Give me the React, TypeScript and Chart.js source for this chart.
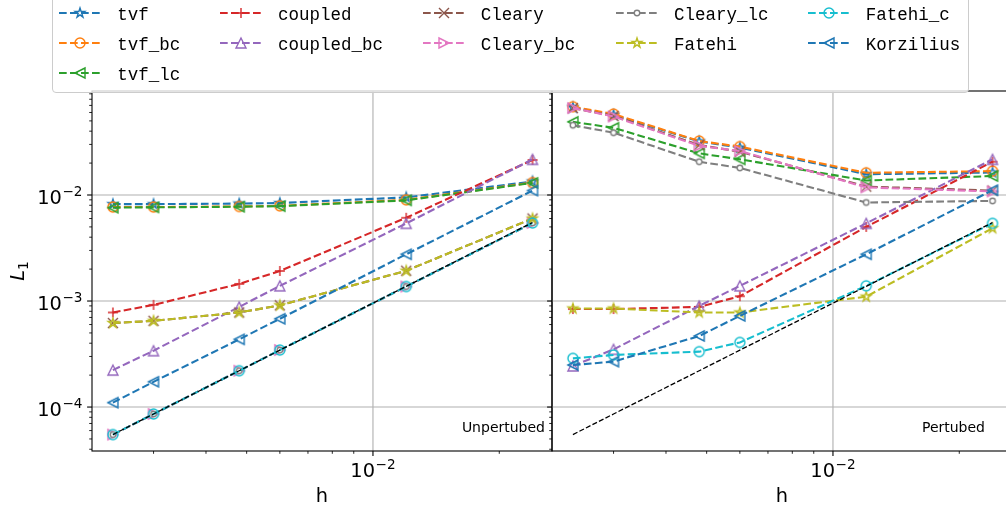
import React, { useEffect, useRef } from "react";
import { Chart, registerables } from "chart.js";
Chart.register(...registerables);

// ---------------- data ----------------
const H = [0.0024, 0.003, 0.0048, 0.006, 0.012, 0.024];

const SERIES_NAMES = [
  "tvf", "tvf_bc", "tvf_lc", "coupled", "coupled_bc", "Cleary",
  "Cleary_bc", "Cleary_lc", "Fatehi", "Fatehi_c", "Korzilius",
];

// Unpertubed panel
const U_tvf = [8.2e-3, 8.2e-3, 8.3e-3, 8.4e-3, 9.5e-3, 1.34e-2];
const U_tvf_bc = [7.7e-3, 7.7e-3, 7.8e-3, 7.9e-3, 9.0e-3, 1.31e-2];
const U_tvf_lc = [7.6e-3, 7.65e-3, 7.75e-3, 7.85e-3, 8.9e-3, 1.3e-2];
const U_coupled = [7.8e-4, 9.2e-4, 1.45e-3, 1.92e-3, 6.1e-3, 2.14e-2];
const U_coupled_bc = [2.23e-4, 3.4e-4, 8.8e-4, 1.39e-3, 5.4e-3, 2.17e-2];
const U_Cleary = [6.2e-4, 6.5e-4, 7.8e-4, 9.1e-4, 1.93e-3, 6.0e-3];
const U_Cleary_bc = [5.5e-5, 8.6e-5, 2.2e-4, 3.45e-4, 1.37e-3, 5.45e-3];
const U_Cleary_lc = [5.5e-5, 8.6e-5, 2.2e-4, 3.45e-4, 1.37e-3, 5.45e-3];
const U_Fatehi = [6.2e-4, 6.5e-4, 7.8e-4, 9.1e-4, 1.93e-3, 6.0e-3];
const U_Fatehi_c = [5.5e-5, 8.6e-5, 2.2e-4, 3.45e-4, 1.37e-3, 5.45e-3];
const U_Korzilius = [1.1e-4, 1.73e-4, 4.35e-4, 6.8e-4, 2.76e-3, 1.1e-2];
const U_ref = [5.5e-5, 8.6e-5, 2.2e-4, 3.44e-4, 1.375e-3, 5.5e-3];

// Pertubed panel
const P_tvf = [0.067, 0.057, 0.032, 0.028, 0.0157, 0.0163];
const P_tvf_bc = [0.068, 0.058, 0.0323, 0.0286, 0.0162, 0.0168];
const P_tvf_lc = [0.049, 0.043, 0.0247, 0.0217, 0.0137, 0.0151];
const P_coupled = [8.4e-4, 8.4e-4, 8.8e-4, 1.11e-3, 5.0e-3, 2.06e-2];
const P_coupled_bc = [2.44e-4, 3.5e-4, 9.0e-4, 1.39e-3, 5.4e-3, 2.17e-2];
const P_Cleary = [0.066, 0.0556, 0.0296, 0.0256, 0.012, 0.011];
const P_Cleary_bc = [0.066, 0.055, 0.029, 0.026, 0.0118, 0.0108];
const P_Cleary_lc = [0.0455, 0.0387, 0.0206, 0.018, 8.5e-3, 8.8e-3];
const P_Fatehi = [8.5e-4, 8.5e-4, 7.8e-4, 7.8e-4, 1.1e-3, 4.86e-3];
const P_Fatehi_c = [2.88e-4, 3.1e-4, 3.33e-4, 4.07e-4, 1.39e-3, 5.4e-3];
const P_Korzilius = [2.49e-4, 2.68e-4, 4.68e-4, 7.24e-4, 2.76e-3, 1.11e-2];
const P_ref = [5.5e-5, 8.6e-5, 2.2e-4, 3.44e-4, 1.375e-3, 5.5e-3];

const UNPERTURBED = [U_tvf, U_tvf_bc, U_tvf_lc, U_coupled, U_coupled_bc, U_Cleary,
  U_Cleary_bc, U_Cleary_lc, U_Fatehi, U_Fatehi_c, U_Korzilius];
const PERTURBED = [P_tvf, P_tvf_bc, P_tvf_lc, P_coupled, P_coupled_bc, P_Cleary,
  P_Cleary_bc, P_Cleary_lc, P_Fatehi, P_Fatehi_c, P_Korzilius];

// tick labels (powers of ten)
const Y_TICK_EXPONENTS = [-4, -3, -2];
const X_TICK_EXPONENTS = [-2];
const X_LABEL = "h";
const Y_LABEL_MAIN = "L";
const Y_LABEL_SUB = "1";
const PANEL_TEXTS = ["Unpertubed", "Pertubed"];

// axis limits
const X_MIN = 2.14e-3;
const X_MAX = 0.02671;
const Y_MIN = 3.85e-5;
const Y_MAX = 0.0957;

// ---------------- styles ----------------
const COLORS = ["#1f77b4", "#ff7f0e", "#2ca02c", "#d62728", "#9467bd", "#8c564b",
  "#e377c2", "#7f7f7f", "#bcbd22", "#17becf", "#1f77b4"];
const MARKERS = ["star", "circle", "triLeft", "plus", "triUp", "x", "triRight",
  "smallCircle", "star", "circle", "triLeft"];

const LINE_W = 2.1;
const DASH = [7.7, 3.3];
const FONT = "'DejaVu Sans', sans-serif";

const markerCache: Record<number, HTMLCanvasElement> = {};
function getMarker(idx: number): HTMLCanvasElement {
  if (markerCache[idx]) return markerCache[idx];
  const kind = MARKERS[idx];
  const color = COLORS[idx];
  const size = kind === "smallCircle" ? 5.5 : 10;
  const lw = 1.4;
  const dim = 16;
  const c = document.createElement("canvas");
  c.width = dim;
  c.height = dim;
  const ctx = c.getContext("2d")!;
  ctx.translate(dim / 2, dim / 2);
  ctx.strokeStyle = color;
  ctx.lineWidth = lw;
  ctx.lineJoin = "miter";
  const r = size / 2;
  ctx.beginPath();
  switch (kind) {
    case "circle":
    case "smallCircle":
      ctx.arc(0, 0, r, 0, Math.PI * 2);
      break;
    case "triUp":
      ctx.moveTo(0, -r); ctx.lineTo(-r, r); ctx.lineTo(r, r); ctx.closePath();
      break;
    case "triLeft":
      ctx.moveTo(-r, 0); ctx.lineTo(r, -r); ctx.lineTo(r, r); ctx.closePath();
      break;
    case "triRight":
      ctx.moveTo(r, 0); ctx.lineTo(-r, -r); ctx.lineTo(-r, r); ctx.closePath();
      break;
    case "plus":
      ctx.moveTo(-r, 0); ctx.lineTo(r, 0); ctx.moveTo(0, -r); ctx.lineTo(0, r);
      break;
    case "x":
      ctx.moveTo(-r, -r); ctx.lineTo(r, r); ctx.moveTo(-r, r); ctx.lineTo(r, -r);
      break;
    case "star": {
      const inner = r * 0.381966;
      for (let k = 0; k < 10; k++) {
        const ang = -Math.PI / 2 + (k * Math.PI) / 5;
        const rr = k % 2 === 0 ? r : inner;
        const px = rr * Math.cos(ang);
        const py = rr * Math.sin(ang);
        if (k === 0) ctx.moveTo(px, py); else ctx.lineTo(px, py);
      }
      ctx.closePath();
      break;
    }
  }
  if (kind === "smallCircle") {
    ctx.fillStyle = "#ffffff";
    ctx.fill();
  }
  ctx.stroke();
  markerCache[idx] = c;
  return c;
}

function drawPow(ctx: CanvasRenderingContext2D, exp: number, x: number, baseline: number, align: string) {
  const base = "10";
  const sup = "\u2212" + Math.abs(exp);
  ctx.font = "19.4px " + FONT;
  const wb = ctx.measureText(base).width;
  ctx.font = "13.6px " + FONT;
  const ws = ctx.measureText(sup).width;
  const total = wb + ws + 0.5;
  const x0 = align === "right" ? x - total : x - total / 2;
  ctx.textAlign = "left";
  ctx.textBaseline = "alphabetic";
  ctx.fillStyle = "#000";
  ctx.font = "19.4px " + FONT;
  ctx.fillText(base, x0, baseline);
  ctx.font = "13.6px " + FONT;
  ctx.fillText(sup, x0 + wb + 0.5, baseline - 8);
}

function tickValues(min: number, max: number) {
  const out: { v: number; major: boolean }[] = [];
  const e0 = Math.floor(Math.log10(min));
  const e1 = Math.ceil(Math.log10(max));
  for (let e = e0; e <= e1; e++) {
    for (let k = 1; k <= 9; k++) {
      const v = k * Math.pow(10, e);
      if (v >= min && v <= max) out.push({ v, major: k === 1 });
    }
  }
  return out;
}

const mplAxes = {
  id: "mplAxes",
  beforeDatasetsDraw(chart: any) {
    const { ctx, chartArea: a } = chart;
    const xs = chart.scales.x;
    const ys = chart.scales.y;
    ctx.save();
    ctx.strokeStyle = "#b0b0b0";
    ctx.lineWidth = 1.1;
    ctx.beginPath();
    for (const e of Y_TICK_EXPONENTS) {
      const p = ys.getPixelForValue(Math.pow(10, e));
      ctx.moveTo(a.left, p); ctx.lineTo(a.right, p);
    }
    for (const e of X_TICK_EXPONENTS) {
      const p = xs.getPixelForValue(Math.pow(10, e));
      ctx.moveTo(p, a.top); ctx.lineTo(p, a.bottom);
    }
    ctx.stroke();
    ctx.restore();
  },
  afterDraw(chart: any, _args: any, opts: any) {
    const { ctx, chartArea: a } = chart;
    const xs = chart.scales.x;
    const ys = chart.scales.y;
    ctx.save();
    // spines
    ctx.strokeStyle = "#000";
    ctx.lineWidth = 1.1;
    ctx.strokeRect(a.left, a.top, a.right - a.left, a.bottom - a.top);
    // y ticks
    for (const t of tickValues(Y_MIN, Y_MAX)) {
      const p = ys.getPixelForValue(t.v);
      ctx.lineWidth = t.major ? 1.1 : 0.85;
      const len = t.major ? 4.9 : 2.8;
      ctx.beginPath(); ctx.moveTo(a.left, p); ctx.lineTo(a.left - len, p); ctx.stroke();
    }
    // x ticks
    for (const t of tickValues(X_MIN, X_MAX)) {
      const p = xs.getPixelForValue(t.v);
      ctx.lineWidth = t.major ? 1.1 : 0.85;
      const len = t.major ? 4.9 : 2.8;
      ctx.beginPath(); ctx.moveTo(p, a.bottom); ctx.lineTo(p, a.bottom + len); ctx.stroke();
    }
    // x tick labels
    for (const e of X_TICK_EXPONENTS) {
      const p = xs.getPixelForValue(Math.pow(10, e));
      drawPow(ctx, e, p, a.bottom + 26, "center");
    }
    // x label
    ctx.fillStyle = "#000";
    ctx.font = "19.4px " + FONT;
    ctx.textAlign = "center";
    ctx.textBaseline = "alphabetic";
    ctx.fillText(X_LABEL, (a.left + a.right) / 2, a.bottom + 51);
    // y tick labels + y label
    if (opts.showY) {
      for (const e of Y_TICK_EXPONENTS) {
        const p = ys.getPixelForValue(Math.pow(10, e));
        drawPow(ctx, e, a.left - 9.5, p + 9, "right");
      }
      const cy = (a.top + a.bottom) / 2;
      ctx.save();
      ctx.translate(24, cy);
      ctx.rotate(-Math.PI / 2);
      ctx.font = "italic 19.4px " + FONT;
      const wl = ctx.measureText(Y_LABEL_MAIN).width;
      ctx.font = "13.6px " + FONT;
      const ws = ctx.measureText(Y_LABEL_SUB).width;
      const x0 = -(wl + ws) / 2;
      ctx.textAlign = "left";
      ctx.font = "italic 19.4px " + FONT;
      ctx.fillText(Y_LABEL_MAIN, x0, 0);
      ctx.font = "13.6px " + FONT;
      ctx.fillText(Y_LABEL_SUB, x0 + wl, 3.5);
      ctx.restore();
    }
    // panel text
    ctx.font = "14px " + FONT;
    ctx.textAlign = "right";
    ctx.fillStyle = "#000";
    ctx.fillText(opts.text, opts.textRight, 432);
    ctx.restore();
  },
};

function makeChart(canvas: HTMLCanvasElement, values: number[][], ref: number[], opts: any) {
  const n = SERIES_NAMES.length;
  const datasets: any[] = values.map((vals, i) => ({
    label: SERIES_NAMES[i],
    data: H.map((h, j) => ({ x: h, y: vals[j] })),
    borderColor: COLORS[i],
    backgroundColor: COLORS[i],
    borderWidth: LINE_W,
    borderDash: DASH,
    pointStyle: getMarker(i),
    pointRadius: 5,
    pointHoverRadius: 5,
    fill: false,
    tension: 0,
    order: n + 1 - i,
  }));
  datasets.push({
    label: "ref",
    data: H.map((h, j) => ({ x: h, y: ref[j] })),
    borderColor: "#000000",
    borderWidth: 1.3,
    borderDash: [5.1, 2.2],
    pointRadius: 0,
    fill: false,
    tension: 0,
    order: 0,
  });
  return new Chart(canvas, {
    type: "line",
    data: { datasets },
    options: {
      responsive: false,
      devicePixelRatio: 1,
      animation: false,
      events: [],
      layout: { padding: { left: 92, right: 8, top: 91, bottom: 57 } },
      scales: {
        x: { type: "logarithmic", min: X_MIN, max: X_MAX, display: false, bounds: "data" },
        y: { type: "logarithmic", min: Y_MIN, max: Y_MAX, display: false, bounds: "data" },
      },
      plugins: {
        legend: { display: false },
        tooltip: { enabled: false },
        mplAxes: opts,
      } as any,
    },
    plugins: [mplAxes as any],
  } as any);
}

// ---------------- legend ----------------
const LEGEND_COLUMNS = [[0, 1, 2], [3, 4], [5, 6], [7, 8], [9, 10]];
const COL_HANDLE_X = [59.3, 220, 422.7, 616, 807.7];
const ROW_BASELINE = [20.3, 50.3, 80.3];

function LegendHandle({ idx, left, top }: { idx: number; left: number; top: number }) {
  const ref = useRef<HTMLCanvasElement>(null);
  useEffect(() => {
    const c = ref.current!;
    const ctx = c.getContext("2d")!;
    ctx.clearRect(0, 0, c.width, c.height);
    ctx.strokeStyle = COLORS[idx];
    ctx.lineWidth = LINE_W;
    ctx.setLineDash(DASH);
    ctx.beginPath();
    ctx.moveTo(0, 10);
    ctx.lineTo(42, 10);
    ctx.stroke();
    const m = getMarker(idx);
    ctx.drawImage(m, 21 - m.width / 2, 10 - m.height / 2);
  }, [idx]);
  return (
    <canvas ref={ref} width={42} height={20}
      style={{ position: "absolute", left, top, width: 42, height: 20 }} />
  );
}

function Legend() {
  const items: any[] = [];
  LEGEND_COLUMNS.forEach((col, ci) => {
    col.forEach((idx, ri) => {
      const hx = COL_HANDLE_X[ci];
      const bl = ROW_BASELINE[ri];
      items.push(<LegendHandle key={"h" + idx} idx={idx} left={hx} top={bl - 7 - 10} />);
      items.push(
        <span key={"t" + idx} style={{
          position: "absolute", left: hx + 58, top: bl - 13.4,
          fontFamily: "'Liberation Mono', monospace", fontSize: "17.5px",
          lineHeight: "17.5px", color: "#000", whiteSpace: "pre",
        }}>{SERIES_NAMES[idx]}</span>
      );
    });
  });
  return (
    <>
      <div style={{
        position: "absolute", left: 52, top: -6, width: 917, height: 99,
        boxSizing: "border-box", border: "1px solid #cccccc", borderRadius: 4,
        background: "rgba(255,255,255,0.8)",
      }} />
      {items}
    </>
  );
}

export default function App() {
  const leftRef = useRef<HTMLCanvasElement>(null);
  const rightRef = useRef<HTMLCanvasElement>(null);
  useEffect(() => {
    document.body.style.margin = "0";
    const c1 = makeChart(leftRef.current!, UNPERTURBED, U_ref,
      { showY: true, text: PANEL_TEXTS[0], textRight: 545 });
    const c2 = makeChart(rightRef.current!, PERTURBED, P_ref,
      { showY: false, text: PANEL_TEXTS[1], textRight: 985 - 460 });
    return () => { c1.destroy(); c2.destroy(); };
  }, []);
  return (
    <div style={{ position: "relative", width: 1006, height: 508, overflow: "hidden", background: "#fff" }}>
      <canvas ref={leftRef} width={560} height={508}
        style={{ position: "absolute", left: 0, top: 0, width: 560, height: 508 }} />
      <canvas ref={rightRef} width={560} height={508}
        style={{ position: "absolute", left: 460, top: 0, width: 560, height: 508 }} />
      <Legend />
    </div>
  );
}
